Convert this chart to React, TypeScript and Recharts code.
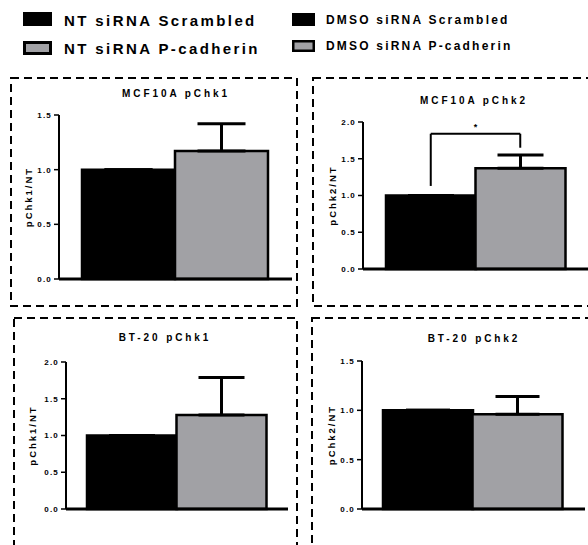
import {
  BarChart, Bar, XAxis, YAxis, Cell, ErrorBar, ReferenceLine,
} from 'recharts'

const GROUPS = ['Scrambled', 'P-cadherin']

const MCF10A_CHK1 = [1.0, 1.17]
const MCF10A_CHK1_ERR = [0, 0.25]
const MCF10A_CHK2 = [1.0, 1.37]
const MCF10A_CHK2_ERR = [0, 0.18]
const BT20_CHK1 = [1.0, 1.28]
const BT20_CHK1_ERR = [0, 0.51]
const BT20_CHK2 = [1.0, 0.96]
const BT20_CHK2_ERR = [0, 0.18]

const TICKS_15 = [0, 0.5, 1.0, 1.5]
const TICKS_20 = [0, 0.5, 1.0, 1.5, 2.0]

// significance bracket on MCF10A pChk2
const BRACKET_LEFT = [1.13, 1.84]
const BRACKET_RIGHT = [1.65, 1.84]

const GREY = '#a1a1a5'
const FONT = '"Liberation Sans", Arial, Helvetica, sans-serif'

interface PanelProps {
  values: number[]
  errors: number[]
  ticks: number[]
  yLabel: string
  axisX: number
  yTop: number
  y0: number
  xRight: number
  padL: number
  padR: number
  labelX: number
  capWidth: number
  bracket?: boolean
}

function Panel(p: PanelProps) {
  const data = GROUPS.map((name, i) => ({
    name,
    value: p.values[i],
    err: [0, p.errors[i]],
  }))
  const chartLeft = 2 * p.labelX - p.axisX
  const topPad = 12
  const chartTop = p.yTop - topPad
  const width = p.xRight - chartLeft
  const height = p.y0 - chartTop + 1 + 4
  const max = p.ticks[p.ticks.length - 1]

  return (
    <div style={{ position: 'absolute', left: chartLeft, top: chartTop }}>
      <BarChart
        width={width}
        height={height}
        data={data}
        margin={{ top: topPad, right: 0, bottom: 4, left: 0 }}
        barCategoryGap={0}
        barGap={0}
      >
        <XAxis
          dataKey="name"
          tick={false}
          tickLine={false}
          height={1}
          padding={{ left: p.padL, right: p.padR }}
          axisLine={{ stroke: '#000', strokeWidth: 3 }}
        />
        <YAxis
          width={p.axisX - chartLeft}
          domain={[0, max]}
          ticks={p.ticks}
          interval={0}
          tickSize={5}
          tickMargin={2}
          tickFormatter={(v: number) => v.toFixed(1)}
          tick={{ fill: '#000', fontSize: 8, fontWeight: 'bold', fontFamily: FONT, letterSpacing: 1.2 }}
          tickLine={{ stroke: '#000', strokeWidth: 1.5 }}
          axisLine={{ stroke: '#000', strokeWidth: 2 }}
          label={{
            value: p.yLabel,
            angle: -90,
            position: 'center',
            fill: '#000',
            fontSize: 9.5,
            fontWeight: 'bold',
            fontFamily: FONT,
            letterSpacing: 2,
          }}
        />
        <Bar dataKey="value" isAnimationActive={false}>
          {data.map((d, i) => (
            <Cell
              key={d.name}
              fill={i === 0 ? '#000' : GREY}
              stroke="#000"
              strokeWidth={2.5}
            />
          ))}
          <ErrorBar
            dataKey="err"
            direction="y"
            width={p.capWidth}
            stroke="#000"
            strokeWidth={3}
            isAnimationActive={false}
          />
        </Bar>
        {p.bracket && (
          <ReferenceLine
            segment={[{ x: GROUPS[0], y: BRACKET_LEFT[0] }, { x: GROUPS[0], y: BRACKET_LEFT[1] }]}
            stroke="#000"
            strokeWidth={2}
          />
        )}
        {p.bracket && (
          <ReferenceLine
            segment={[{ x: GROUPS[1], y: BRACKET_RIGHT[0] }, { x: GROUPS[1], y: BRACKET_RIGHT[1] }]}
            stroke="#000"
            strokeWidth={2}
          />
        )}
        {p.bracket && (
          <ReferenceLine
            segment={[{ x: GROUPS[0], y: BRACKET_LEFT[1] }, { x: GROUPS[1], y: BRACKET_RIGHT[1] }]}
            stroke="#000"
            strokeWidth={2}
            label={{ value: '*', position: 'top', fill: '#000', fontSize: 9, fontWeight: 'bold', fontFamily: FONT, offset: 4 }}
          />
        )}
      </BarChart>
    </div>
  )
}

const legendText = { fontFamily: FONT, fontWeight: 'bold' as const, fill: '#000' }

export default function App() {
  return (
    <div style={{ position: 'absolute', left: 0, top: 0, width: 588, height: 545, overflow: 'hidden', background: '#fff' }}>
      <Panel values={MCF10A_CHK1} errors={MCF10A_CHK1_ERR} ticks={TICKS_15} yLabel="pChk1/NT"
        axisX={59} yTop={115} y0={279} xRight={292} padL={23} padR={24} labelX={29} capWidth={24} />
      <Panel values={MCF10A_CHK2} errors={MCF10A_CHK2_ERR} ticks={TICKS_20} yLabel="pChk2/NT"
        axisX={363} yTop={122} y0={269} xRight={588} padL={23} padR={23} labelX={333} capWidth={23} bracket />
      <Panel values={BT20_CHK1} errors={BT20_CHK1_ERR} ticks={TICKS_20} yLabel="pChk1/NT"
        axisX={66} yTop={362} y0={509} xRight={288} padL={21} padR={22} labelX={33} capWidth={23} />
      <Panel values={BT20_CHK2} errors={BT20_CHK2_ERR} ticks={TICKS_15} yLabel="pChk2/NT"
        axisX={362} yTop={361} y0={509} xRight={585} padL={21} padR={23} labelX={332} capWidth={22} />

      <svg width={588} height={545} style={{ position: 'absolute', left: 0, top: 0, pointerEvents: 'none' }}>
        {/* legend */}
        <rect x={23} y={12} width={29} height={14} fill="#000" />
        <rect x={24.5} y={42.5} width={26} height={11} fill={GREY} stroke="#000" strokeWidth={3} />
        <text x={64} y={20} dominantBaseline="central" fontSize={15} letterSpacing={2.4} {...legendText}>NT siRNA Scrambled</text>
        <text x={64} y={48} dominantBaseline="central" fontSize={15} letterSpacing={2.4} {...legendText}>NT siRNA P-cadherin</text>

        <rect x={292} y={13} width={23} height={13} fill="#000" />
        <rect x={293.25} y={41.25} width={20.5} height={9.5} fill={GREY} stroke="#000" strokeWidth={2.5} />
        <text x={326} y={20} dominantBaseline="central" fontSize={12} letterSpacing={2.2} {...legendText}>DMSO siRNA Scrambled</text>
        <text x={326} y={46} dominantBaseline="central" fontSize={12} letterSpacing={2.2} {...legendText}>DMSO siRNA P-cadherin</text>

        {/* panel titles */}
        <text x={176} y={93} textAnchor="middle" dominantBaseline="central" fontSize={10} letterSpacing={2.9} {...legendText}>MCF10A pChk1</text>
        <text x={474} y={100} textAnchor="middle" dominantBaseline="central" fontSize={10} letterSpacing={2.9} {...legendText}>MCF10A pChk2</text>
        <text x={165} y={337} textAnchor="middle" dominantBaseline="central" fontSize={10} letterSpacing={2.9} {...legendText}>BT-20 pChk1</text>
        <text x={474} y={338} textAnchor="middle" dominantBaseline="central" fontSize={10} letterSpacing={2.9} {...legendText}>BT-20 pChk2</text>

        {/* dashed panel frames */}
        <g fill="none" stroke="#000" strokeWidth={2} strokeDasharray="8 5">
          <rect x={11} y={78} width={286} height={228} />
          <rect x={313} y={78} width={300} height={228} />
          <rect x={14} y={318} width={283} height={300} />
          <rect x={312} y={318} width={300} height={300} />
        </g>
      </svg>
    </div>
  )
}
